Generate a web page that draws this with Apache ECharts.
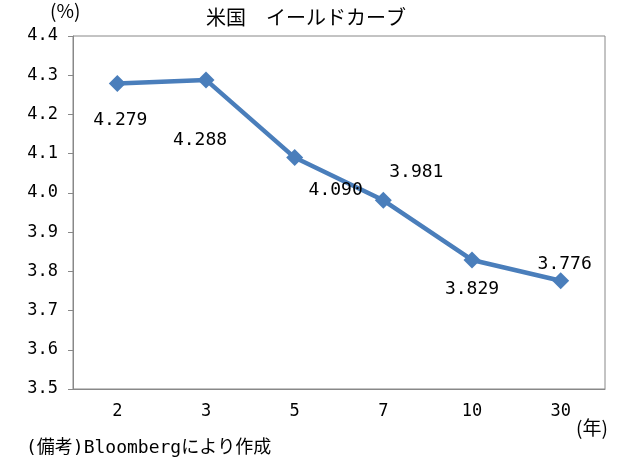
<!DOCTYPE html>
<html>
<head>
<meta charset="utf-8">
<script src="https://cdn.jsdelivr.net/npm/echarts@6/dist/echarts.min.js"></script>
<style>
html, body { margin: 0; padding: 0; background: #fff; }
#main { width: 633px; height: 468px; }
</style>
</head>
<body>
<div id="main"></div>
<script>
var categories = ['2', '3', '5', '7', '10', '30'];
var yields = [4.279, 4.288, 4.090, 3.981, 3.829, 3.776];
// where each value label sits relative to its marker
var labelPos = [[3, 37], [-6, 60], [41, 33], [33, -28], [0, 29], [4, -16]];

var font = '"DejaVu Sans Mono", "Noto Sans CJK JP", monospace';
var jpFont = '"Noto Sans CJK JP", sans-serif';
var myChart = echarts.init(document.getElementById('main'));

var points = [];
for (var i = 0; i < yields.length; i++) {
  points.push({
    value: yields[i],
    label: { offset: labelPos[i] }
  });
}

var option = {
  backgroundColor: '#fff',
  textStyle: { fontFamily: font },
  title: {
    text: '米国　イールドカーブ',
    left: 301, top: 2, textAlign: 'center',
    textStyle: { fontFamily: jpFont, fontSize: 20, fontWeight: 'normal', color: '#000' }
  },
  graphic: [
    { type: 'text', left: 50, top: 1, style: { text: '(%)', font: '19px ' + jpFont, fill: '#000' } },
    { type: 'text', left: 576, top: 418, style: { text: '(年)', font: '19px ' + jpFont, fill: '#000' } },
    { type: 'text', left: 26, top: 439, style: { text: '(備考)Bloombergにより作成', font: '18px ' + font, fill: '#000' } }
  ],
  grid: {
    left: 73, right: 28, top: 36, bottom: 79,
    show: true, borderColor: '#888', borderWidth: 1
  },
  xAxis: {
    type: 'category',
    data: categories,
    boundaryGap: true,
    axisLine: { lineStyle: { color: '#888' } },
    axisTick: { show: false },
    axisLabel: { color: '#000', fontSize: 17, margin: 14, fontFamily: font }
  },
  yAxis: {
    type: 'value',
    min: 3.5, max: 4.4, interval: 0.1,
    axisLine: { show: true, lineStyle: { color: '#888' } },
    axisTick: { show: true, length: 5, lineStyle: { color: '#888' } },
    splitLine: { show: false },
    axisLabel: {
      color: '#000', fontSize: 17, margin: 15, fontFamily: font,
      formatter: function (v) { return v.toFixed(1); }
    }
  },
  series: [{
    type: 'line',
    data: points,
    symbol: 'diamond',
    symbolSize: 17,
    lineStyle: { color: '#4a7ebb', width: 4.5 },
    itemStyle: { color: '#4a7ebb' },
    label: {
      show: true, position: 'inside', color: '#000', fontSize: 18, fontFamily: font,
      formatter: function (p) { return p.value.toFixed(3); }
    },
    animation: false
  }]
};

myChart.setOption(option);
</script>
</body>
</html>
